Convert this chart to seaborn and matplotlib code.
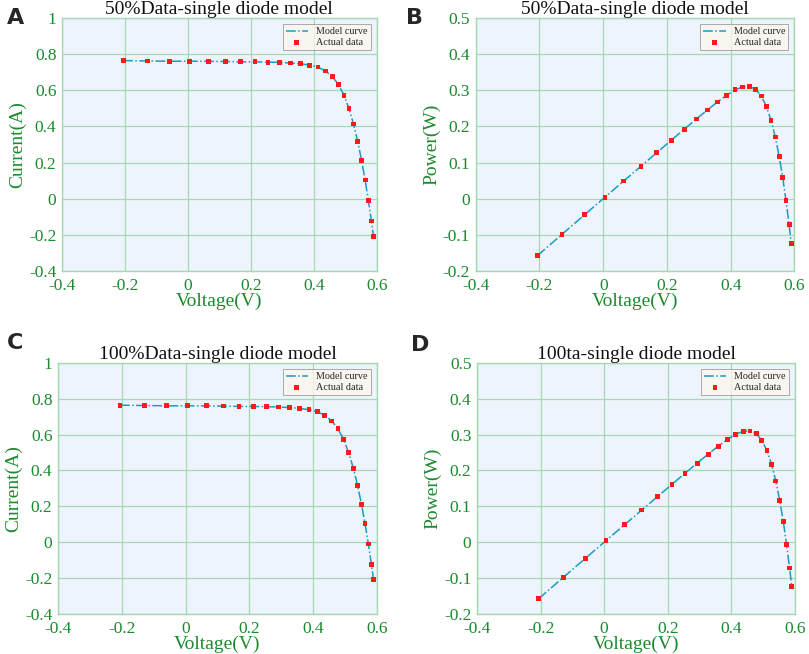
import numpy as np
import pandas as pd
import matplotlib
matplotlib.use("Agg")
import matplotlib.pyplot as plt
import seaborn as sns

voltage = [-0.2057, -0.1291, -0.0588, 0.0057, 0.0646, 0.1185, 0.1678, 0.2132, 0.2545,
           0.2924, 0.3269, 0.3585, 0.3873, 0.4137, 0.4373, 0.4590, 0.4784, 0.4960,
           0.5119, 0.5265, 0.5398, 0.5521, 0.5633, 0.5736, 0.5833, 0.5900]
current = [0.7640, 0.7620, 0.7605, 0.7605, 0.7600, 0.7590, 0.7570, 0.7570, 0.7555,
           0.7540, 0.7505, 0.7465, 0.7385, 0.7280, 0.7065, 0.6755, 0.6320, 0.5730,
           0.4990, 0.4130, 0.3165, 0.2120, 0.1035, -0.0100, -0.1230, -0.2100]
power = [-0.1572, -0.0984, -0.0447, 0.0043, 0.0491, 0.0899, 0.1270, 0.1614, 0.1923,
         0.2205, 0.2453, 0.2676, 0.2860, 0.3012, 0.3090, 0.3101, 0.3023, 0.2842,
         0.2554, 0.2174, 0.1708, 0.1170, 0.0583, -0.0057, -0.0717, -0.1239]

titles = ["50%Data-single diode model", "50%Data-single diode model",
          "100%Data-single diode model", "100ta-single diode model"]
letters = ["A", "B", "C", "D"]
ylabels = ["Current(A)", "Power(W)", "Current(A)", "Power(W)"]

df = pd.DataFrame({"V": voltage, "I": current, "P": power})

sns.set_style("whitegrid")
plt.rcParams["font.family"] = ["Liberation Serif", "DejaVu Serif"]
green = "#1b8a2e"
grid_c = "#a6d8b4"

fig = plt.figure(figsize=(8.09, 6.54), dpi=100)
boxes = [[0.0766, 0.5856, 0.389, 0.387],
         [0.588, 0.5856, 0.394, 0.387],
         [0.0717, 0.0612, 0.394, 0.384],
         [0.5896, 0.0612, 0.393, 0.384]]

for k in range(4):
    ax = fig.add_axes(boxes[k])
    ycol = "I" if k % 2 == 0 else "P"
    ax.set_facecolor("#eef4fb")
    sns.lineplot(data=df, x="V", y=ycol, ax=ax, color="#1a9bc7", lw=1.1,
                 linestyle="-.", label="Model curve", zorder=2)
    sns.scatterplot(data=df, x="V", y=ycol, ax=ax, color="#ff1a1a", marker="s",
                    s=12, edgecolor="none", label="Actual data", zorder=3)
    ax.set_xlim(-0.4, 0.6)
    ax.set_xticks(np.arange(-0.4, 0.61, 0.2))
    ax.set_xticklabels(["-0.4", "-0.2", "0", "0.2", "0.4", "0.6"])
    if ycol == "I":
        ax.set_ylim(-0.4, 1.0)
        ax.set_yticks([-0.4, -0.2, 0, 0.2, 0.4, 0.6, 0.8, 1])
        ax.set_yticklabels(["-0.4", "-0.2", "0", "0.2", "0.4", "0.6", "0.8", "1"])
    else:
        ax.set_ylim(-0.2, 0.5)
        ax.set_yticks([-0.2, -0.1, 0, 0.1, 0.2, 0.3, 0.4, 0.5])
        ax.set_yticklabels(["-0.2", "-0.1", "0", "0.1", "0.2", "0.3", "0.4", "0.5"])
    ax.grid(True, color=grid_c, lw=0.9)
    for s in ax.spines.values():
        s.set_color(grid_c)
        s.set_linewidth(1.0)
    ax.tick_params(axis="both", colors=green, labelsize=12.5, length=0)
    ax.tick_params(axis="x", pad=5)
    ax.tick_params(axis="y", pad=4)
    ax.set_xlabel("Voltage(V)", color=green, fontsize=14, labelpad=-1)
    ax.set_ylabel(ylabels[k], color=green, fontsize=14, labelpad=2)
    ax.set_title(titles[k], fontsize=14, color="#111111", pad=3)
    leg = ax.legend(loc="upper right", fontsize=7.3, frameon=True, fancybox=False,
                    handlelength=2.2, borderpad=0.3, labelspacing=0.2, borderaxespad=0.6)
    leg.get_frame().set_facecolor("#fdf6ee")
    leg.get_frame().set_edgecolor("#888888")
    leg.get_frame().set_linewidth(0.6)

# panel letters
fig.text(0.008, 0.972, "A", fontsize=16, fontweight="bold", family="DejaVu Sans", va="center")
fig.text(0.502, 0.972, "B", fontsize=16, fontweight="bold", family="DejaVu Sans", va="center")
fig.text(0.008, 0.476, "C", fontsize=16, fontweight="bold", family="DejaVu Sans", va="center")
fig.text(0.508, 0.472, "D", fontsize=16, fontweight="bold", family="DejaVu Sans", va="center")

fig.savefig("out.png", dpi=100)
